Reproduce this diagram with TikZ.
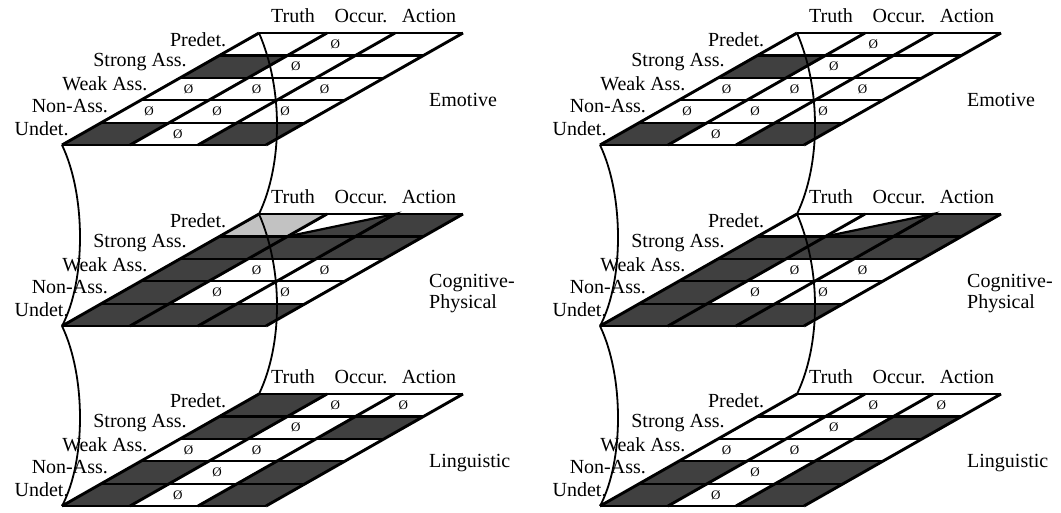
\documentclass[tikz,border=0pt]{standalone}
\usepackage{fontspec}
\setmainfont{Liberation Serif}
\usepackage{tikz}
\definecolor{cellgray}{rgb}{0.25,0.25,0.25}
\definecolor{lightgray}{rgb}{0.76,0.76,0.76}

\tikzset{
  darkcell/.style={fill=cellgray},
  lightcell/.style={fill=lightgray},
  rowline/.style={line width=2.2pt},
  colline/.style={line width=2.9pt},
  nought/.style={font=\fontsize{13}{13}\selectfont,inner sep=0pt,xshift=-6pt},
  rowlab/.style={anchor=east,inner sep=0pt,xshift=-13pt,yshift=5pt},
  collab/.style={anchor=base,inner sep=0pt,yshift=11pt},
  laylab/.style={anchor=north west,inner sep=0pt,align=left},
  link/.style={line width=1.8pt}
}

% one layer: name, origin x, origin y, dark cells, empty cells, label, extra fills
\newcommand{\layer}[7]{%
  \begin{scope}[shift={(#2,#3)},x={(68pt,0pt)},y={(39.4pt,22.4pt)}]
    \coordinate (#1-bl) at (0,0);
    \coordinate (#1-tl) at (0,5);
    \foreach \c/\r in {#4}
      \fill[darkcell] (\c,\r) -- ++(1,0) -- ++(0,1) -- ++(-1,0) -- cycle;
    #7
    \foreach \c/\r in {#5}
      \node[nought] (#1-o\c\r) at (\c+0.5,\r+0.5) {Ø};
    \foreach \r in {0,...,5}
      \draw[rowline] (0,\r) -- (3,\r);
    \foreach \c in {0,...,3}
      \draw[colline] (\c,0) -- (\c,5);
    \foreach \r/\t in {0/Undet.,1/Non-Ass.,2/Weak Ass.,3/Strong Ass.,4/Predet.}
      \node[rowlab] (#1-r\r) at (0,\r+0.5) {\t};
    \foreach \c/\t in {0/Truth,1/Occur.,2/Action}
      \node[collab] (#1-c\c) at (\c+0.5,5) {\t};
    \node[laylab] (#1-lab) at (367pt,52pt) {#6};
  \end{scope}}

\begin{document}
\begin{tikzpicture}[x=1pt,y=-1pt,font=\fontsize{20}{21}\selectfont]
  \useasboundingbox (0,0) rectangle (1061,512);

  % left column
  \layer{le}{62}{145}{0/3,0/0,2/0}
    {1/4,1/3,0/2,1/2,2/2,0/1,1/1,2/1,1/0}{Emotive}{}
  \layer{lc}{62}{326}{2/4,0/3,1/3,2/3,0/2,0/1,0/0,1/0,2/0}
    {1/2,2/2,1/1,2/1}{Cognitive-\\Physical}
    {\fill[lightcell] (0,4) -- ++(1,0) -- ++(0,1) -- ++(-1,0) -- cycle;
     \filldraw[darkcell,rowline] (1,4) -- (2,5) -- (2,4) -- cycle;}
  \layer{ll}{62}{506}{0/4,0/3,2/3,0/1,2/1,0/0,2/0}
    {1/4,2/4,1/3,0/2,1/2,1/1,1/0}{Linguistic}{}

  % right column
  \layer{re}{600}{145}{0/3,0/0,2/0}
    {1/4,1/3,0/2,1/2,2/2,0/1,1/1,2/1,1/0}{Emotive}{}
  \layer{rc}{600}{326}{2/4,0/3,1/3,2/3,0/2,0/1,0/0,1/0,2/0}
    {1/2,2/2,1/1,2/1}{Cognitive-\\Physical}
    {\filldraw[darkcell,rowline] (1,4) -- (2,5) -- (2,4) -- cycle;}
  \layer{rl}{600}{506}{2/3,0/1,2/1,0/0,2/0}
    {1/4,2/4,1/3,0/2,1/2,1/1,1/0}{Linguistic}{}

  % links between the layers
  \foreach \a/\b in {le/lc,lc/ll,re/rc,rc/rl} {
    \draw[link] (\a-bl) .. controls +(24,50) and +(24,-45) .. (\b-bl);
    \draw[link] (\a-tl) .. controls +(24,55) and +(24,-50) .. (\b-tl);
  }
\end{tikzpicture}
\end{document}
